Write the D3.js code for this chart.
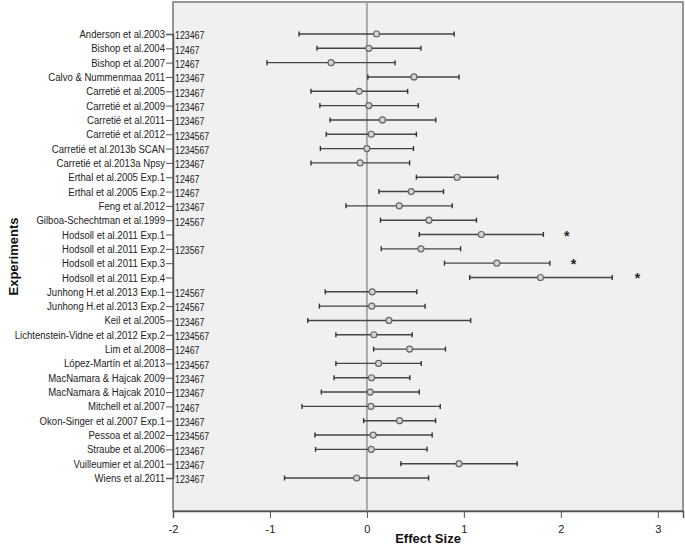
<!DOCTYPE html>
<html>
<head>
<meta charset="utf-8">
<script src="https://cdn.jsdelivr.net/npm/d3@7"></script>
<style>
  body { margin: 0; background: #fff; }
  svg text { font-family: "Liberation Sans", Arial, sans-serif; }
</style>
</head>
<body>
<svg id="chart"></svg>
<script>
const width = 685, height = 547;

// study names, top to bottom
const studies = [
  "Anderson et al.2003", "Bishop et al.2004", "Bishop et al.2007", "Calvo & Nummenmaa 2011",
  "Carretié et al.2005", "Carretié et al.2009", "Carretié et al.2011", "Carretié et al.2012",
  "Carretié et al.2013b SCAN", "Carretié et al.2013a Npsy", "Erthal et al.2005 Exp.1", "Erthal et al.2005 Exp.2",
  "Feng et al.2012", "Gilboa-Schechtman et al.1999", "Hodsoll et al.2011 Exp.1", "Hodsoll et al.2011 Exp.2",
  "Hodsoll et al.2011 Exp.3", "Hodsoll et al.2011 Exp.4", "Junhong H.et al.2013 Exp.1", "Junhong H.et al.2013 Exp.2",
  "Keil et al.2005", "Lichtenstein-Vidne et al.2012 Exp.2", "Lim et al.2008", "López-Martín et al.2013",
  "MacNamara & Hajcak 2009", "MacNamara & Hajcak 2010", "Mitchell et al.2007", "Okon-Singer et al.2007 Exp.1",
  "Pessoa et al.2002", "Straube et al.2006", "Vuilleumier et al.2001", "Wiens et al.2011"
];

const codes = [
  "123467", "12467", "12467", "123467", "123467", "123467", "123467", "1234567",
  "1234567", "123467", "12467", "12467", "123467", "124567", "", "123567",
  "", "", "124567", "124567", "123467", "1234567", "12467", "1234567",
  "123467", "123467", "12467", "123467", "1234567", "123467", "123467", "123467"
];

const effect = [
  0.10, 0.02, -0.37, 0.485, -0.08, 0.02, 0.16, 0.045,
  0.00, -0.07, 0.93, 0.457, 0.333, 0.64, 1.18, 0.557,
  1.34, 1.79, 0.055, 0.05, 0.227, 0.072, 0.44, 0.12,
  0.048, 0.034, 0.041, 0.337, 0.065, 0.045, 0.95, -0.106
];

const lower = [
  -0.70, -0.515, -1.03, 0.01, -0.577, -0.485, -0.38, -0.42,
  -0.48, -0.577, 0.51, 0.124, -0.216, 0.14, 0.54, 0.148,
  0.80, 1.06, -0.43, -0.49, -0.61, -0.32, 0.069, -0.32,
  -0.34, -0.47, -0.67, -0.034, -0.536, -0.53, 0.35, -0.85
];

const upper = [
  0.90, 0.557, 0.29, 0.95, 0.42, 0.53, 0.71, 0.51,
  0.48, 0.44, 1.35, 0.79, 0.88, 1.13, 1.82, 0.966,
  1.887, 2.53, 0.515, 0.60, 1.07, 0.467, 0.81, 0.56,
  0.443, 0.54, 0.756, 0.708, 0.673, 0.62, 1.55, 0.636
];

// significance stars
const starStudies = ["Hodsoll et al.2011 Exp.1", "Hodsoll et al.2011 Exp.3", "Hodsoll et al.2011 Exp.4"];
const starX = [2.06, 2.13, 2.79];

const xTicks = [-2, -1, 0, 1, 2, 3];

const data = studies.map((s, i) => ({ study: s, code: codes[i], es: effect[i], lo: lower[i], hi: upper[i] }));

const plot = { left: 173, right: 683, top: 2, bottom: 511 };
const labelScale = 0.87, codeScale = 0.8;  // original font is narrower

const svg = d3.select("#chart").attr("width", width).attr("height", height);

const x = d3.scaleLinear().domain([-2, 3.26]).range([plot.left, plot.right]);
const y = d3.scalePoint().domain(studies).range([34, 478]);

// plot background
svg.append("rect")
  .attr("x", plot.left).attr("y", plot.top)
  .attr("width", plot.right - plot.left).attr("height", plot.bottom - plot.top)
  .attr("fill", "#f0f0f0")
  .attr("stroke", "#777").attr("stroke-width", 1.5);

// zero reference line
svg.append("line")
  .attr("x1", x(0)).attr("x2", x(0))
  .attr("y1", plot.top).attr("y2", plot.bottom)
  .attr("stroke", "#aaa").attr("stroke-width", 2);

// x axis
const xAxis = svg.append("g")
  .attr("transform", `translate(0,${plot.bottom})`)
  .call(d3.axisBottom(x).tickValues(xTicks).tickSize(7).tickFormat(d3.format("d")));
xAxis.select(".domain").attr("stroke", "#555").attr("stroke-width", 1.5);
xAxis.selectAll(".tick line").attr("stroke", "#555");
xAxis.selectAll(".tick text").attr("font-size", 11).attr("fill", "#222").attr("dy", "1.1em")
  .text(d => d < 0 ? "-" + Math.abs(d) : d);

// y axis
const yAxis = svg.append("g")
  .attr("transform", `translate(${plot.left},0)`)
  .call(d3.axisLeft(y).tickSize(7));
yAxis.select(".domain").attr("stroke", "#555").attr("stroke-width", 1.5);
yAxis.selectAll(".tick line").attr("stroke", "#555");
yAxis.selectAll(".tick text")
  .attr("font-size", 11).attr("fill", "#222")
  .attr("x", -8 / labelScale)
  .attr("transform", `scale(${labelScale},1)`);

// code labels next to the axis
svg.selectAll("text.code")
  .data(data)
  .enter().append("text")
  .attr("class", "code")
  .attr("x", (plot.left + 2) / codeScale)
  .attr("y", d => y(d.study) + 1.5)
  .attr("dy", "0.35em")
  .attr("transform", `scale(${codeScale},1)`)
  .attr("font-size", 11)
  .attr("fill", "#222")
  .text(d => d.code);

// error bars
const bars = svg.append("g").selectAll("g")
  .data(data)
  .enter().append("g");

bars.append("line")
  .attr("x1", d => x(d.lo)).attr("x2", d => x(d.hi))
  .attr("y1", d => y(d.study)).attr("y2", d => y(d.study))
  .attr("stroke", "#444").attr("stroke-width", 1.4);

bars.selectAll("line.cap")
  .data(d => [{ v: d.lo, s: d.study }, { v: d.hi, s: d.study }])
  .enter().append("line")
  .attr("class", "cap")
  .attr("x1", d => x(d.v)).attr("x2", d => x(d.v))
  .attr("y1", d => y(d.s) - 2.5).attr("y2", d => y(d.s) + 2.5)
  .attr("stroke", "#333").attr("stroke-width", 1.4);

bars.append("circle")
  .attr("cx", d => x(d.es)).attr("cy", d => y(d.study))
  .attr("r", 3)
  .attr("fill", "#d4d4d4")
  .attr("stroke", "#666").attr("stroke-width", 1.2);

// stars
svg.selectAll("text.star")
  .data(starStudies)
  .enter().append("text")
  .attr("class", "star")
  .attr("x", (d, i) => x(starX[i]))
  .attr("y", d => y(d) + 6)
  .attr("text-anchor", "middle")
  .attr("font-size", 14)
  .attr("font-weight", "bold")
  .attr("fill", "#222")
  .text("*");

// axis titles
svg.append("text")
  .attr("x", (plot.left + plot.right) / 2)
  .attr("y", 543)
  .attr("text-anchor", "middle")
  .attr("font-size", 13)
  .attr("font-weight", "bold")
  .attr("fill", "#111")
  .text("Effect Size");

svg.append("text")
  .attr("transform", `translate(13,${(plot.top + plot.bottom) / 2}) rotate(-90)`)
  .attr("text-anchor", "middle")
  .attr("dy", "0.35em")
  .attr("font-size", 13)
  .attr("font-weight", "bold")
  .attr("fill", "#111")
  .text("Experiments");
</script>
</body>
</html>
